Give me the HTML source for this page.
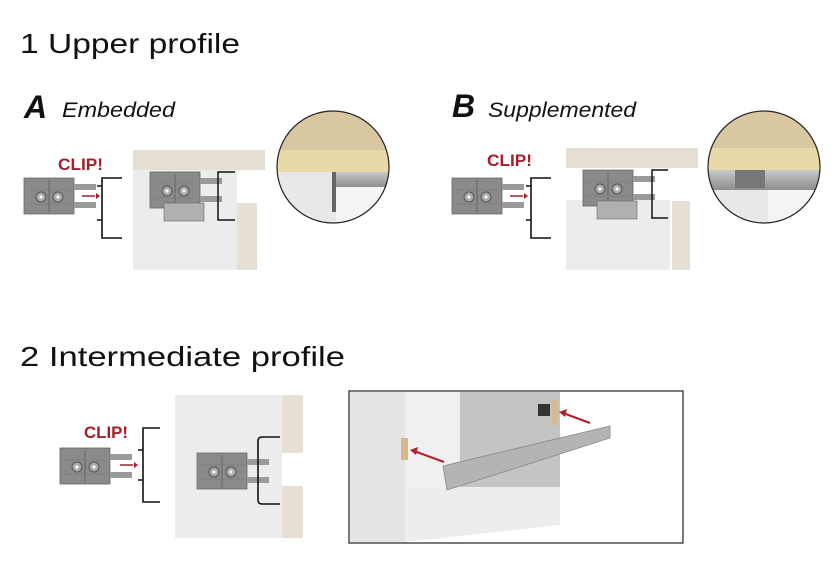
<!DOCTYPE html>
<html><head><style>
html,body{margin:0;padding:0;background:#fff;}
svg{display:block;}
text{font-family:"Liberation Sans",sans-serif;}
</style></head><body>
<svg width="834" height="573" viewBox="0 0 834 573" xmlns="http://www.w3.org/2000/svg">
<defs>
<g id="clip">
 <rect x="0" y="0" width="50" height="36" fill="#8a8a8a" stroke="#666" stroke-width="0.8"/>
 <rect x="50" y="6" width="22" height="6" fill="#9a9a9a"/>
 <rect x="50" y="24" width="22" height="6" fill="#9a9a9a"/>
 <line x1="25" y1="2" x2="25" y2="34" stroke="#666"/>
 <line x1="3" y1="12" x2="47" y2="12" stroke="#777" stroke-width="0.6"/>
 <line x1="3" y1="26" x2="47" y2="26" stroke="#777" stroke-width="0.6"/>
 <circle cx="17" cy="19" r="5" fill="#aaa" stroke="#555"/><circle cx="17" cy="19" r="1.6" fill="#fff"/>
 <circle cx="34" cy="19" r="5" fill="#aaa" stroke="#555"/><circle cx="34" cy="19" r="1.6" fill="#fff"/>
</g>
<g id="bracket" fill="none" stroke="#111" stroke-width="1.6">
 <path d="M22 0 H2 V60 H22"/>
 <path d="M2 8 H-3 M2 42 H-3"/>
</g>
<linearGradient id="alu" x1="0" y1="0" x2="0" y2="1"><stop offset="0" stop-color="#c8c8c8"/><stop offset="1" stop-color="#8e8e8e"/></linearGradient>
<clipPath id="cA"><circle cx="333" cy="167" r="56"/></clipPath>
<clipPath id="cB"><circle cx="764" cy="167" r="56"/></clipPath>
</defs>

<text x="20" y="53" font-size="28" fill="#111" textLength="220" lengthAdjust="spacingAndGlyphs">1 Upper profile</text>
<text x="24" y="118" font-size="32" font-weight="bold" font-style="italic" fill="#111">A</text>
<text x="62" y="117" font-size="21" font-style="italic" fill="#111" textLength="113" lengthAdjust="spacingAndGlyphs">Embedded</text>
<text x="452" y="117" font-size="32" font-weight="bold" font-style="italic" fill="#111">B</text>
<text x="488" y="117" font-size="21" font-style="italic" fill="#111" textLength="148" lengthAdjust="spacingAndGlyphs">Supplemented</text>

<!-- A -->
<text x="58" y="170" font-size="17" font-weight="bold" fill="#a3202a" textLength="45" lengthAdjust="spacingAndGlyphs">CLIP!</text>
<use href="#clip" x="24" y="178"/>
<line x1="82" y1="196" x2="95" y2="196" stroke="#a3202a" stroke-width="1.5"/>
<path d="M96 193 L100 196 L96 199Z" fill="#a3202a"/>
<use href="#bracket" x="100" y="178"/>
<rect x="133" y="150" width="132" height="20" fill="#e6dfd3"/>
<rect x="133" y="170" width="104" height="100" fill="#ececec"/>
<rect x="237" y="203" width="20" height="67" fill="#e6dfd3"/>
<use href="#clip" x="150" y="172"/>
<rect x="164" y="203" width="40" height="18" fill="#b0b0b0" stroke="#666" stroke-width="0.6"/>
<path d="M235 172 H218 V220 H235" fill="none" stroke="#111" stroke-width="1.5"/>
<circle cx="333" cy="167" r="56" fill="#e8e8e8"/>
<g clip-path="url(#cA)">
 <path d="M270 100 H400 V150 L380 172 H270Z" fill="#d8c7a0"/>
 <rect x="270" y="150" width="130" height="22" fill="#e9d9a8"/>
 <rect x="332" y="172" width="70" height="15" fill="url(#alu)"/>
 <rect x="332" y="172" width="4" height="40" fill="#666"/>
 <rect x="336" y="187" width="66" height="60" fill="#f4f4f4"/>
</g>
<circle cx="333" cy="167" r="56" fill="none" stroke="#222" stroke-width="1.2"/>

<!-- B -->
<text x="487" y="166" font-size="17" font-weight="bold" fill="#a3202a" textLength="45" lengthAdjust="spacingAndGlyphs">CLIP!</text>
<use href="#clip" x="452" y="178"/>
<line x1="510" y1="196" x2="523" y2="196" stroke="#a3202a" stroke-width="1.5"/>
<path d="M524 193 L528 196 L524 199Z" fill="#a3202a"/>
<use href="#bracket" x="529" y="178"/>
<rect x="566" y="148" width="132" height="20" fill="#e6dfd3"/>
<rect x="566" y="200" width="104" height="70" fill="#ececec"/>
<rect x="672" y="201" width="18" height="69" fill="#e6dfd3"/>
<use href="#clip" x="583" y="170"/>
<rect x="597" y="201" width="40" height="18" fill="#b0b0b0" stroke="#666" stroke-width="0.6"/>
<path d="M668 170 H652 V218 H668" fill="none" stroke="#111" stroke-width="1.5"/>
<circle cx="764" cy="167" r="56" fill="#e8e8e8"/>
<g clip-path="url(#cB)">
 <path d="M700 100 H830 V150 L810 170 H700Z" fill="#d8c7a0"/>
 <rect x="700" y="148" width="130" height="22" fill="#e9d9a8"/>
 <rect x="700" y="170" width="130" height="20" fill="url(#alu)"/>
 <rect x="735" y="170" width="30" height="18" fill="#777"/>
 <rect x="768" y="190" width="60" height="50" fill="#f4f4f4"/>
</g>
<circle cx="764" cy="167" r="56" fill="none" stroke="#222" stroke-width="1.2"/>

<!-- Section 2 -->
<text x="20" y="366" font-size="28" fill="#111" textLength="325" lengthAdjust="spacingAndGlyphs">2 Intermediate profile</text>
<text x="84" y="438" font-size="17" font-weight="bold" fill="#a3202a" textLength="44" lengthAdjust="spacingAndGlyphs">CLIP!</text>
<use href="#clip" x="60" y="448"/>
<line x1="120" y1="465" x2="133" y2="465" stroke="#a3202a" stroke-width="1.5"/>
<path d="M134 462 L138 465 L134 468Z" fill="#a3202a"/>
<g fill="none" stroke="#111" stroke-width="1.6">
 <path d="M160 428 H143 V502 H160"/>
 <path d="M143 450 H138 M143 480 H138"/>
</g>
<rect x="175" y="395" width="107" height="143" fill="#ececec"/>
<rect x="282" y="395" width="21" height="58" fill="#e6dfd3"/>
<rect x="282" y="486" width="21" height="52" fill="#e6dfd3"/>
<use href="#clip" x="197" y="453"/>
<path d="M280 437 H262 Q258 437 258 441 V500 Q258 504 262 504 H280" fill="none" stroke="#111" stroke-width="1.6"/>

<!-- photo -->
<rect x="349" y="391" width="334" height="152" fill="#fff" stroke="#222" stroke-width="1.2"/>
<rect x="350" y="392" width="55" height="150" fill="#e4e4e4"/>
<rect x="405" y="392" width="55" height="95" fill="#f0f0f0"/>
<rect x="460" y="392" width="100" height="100" fill="#c4c4c4"/>
<path d="M405 487 L560 487 L560 525 L405 542Z" fill="#ededed"/>
<rect x="401" y="438" width="7" height="22" fill="#d8b98a"/>
<rect x="552" y="400" width="6" height="25" fill="#d8b98a"/>
<rect x="538" y="404" width="12" height="12" fill="#333"/>
<path d="M443 466 L610 426 L610 438 L447 490Z" fill="#b4b4b4" stroke="#888" stroke-width="0.8"/>
<line x1="444" y1="462" x2="414" y2="451" stroke="#b3202a" stroke-width="2"/>
<path d="M410 450 L418 447 L416 455Z" fill="#b3202a"/>
<line x1="590" y1="423" x2="563" y2="413" stroke="#b3202a" stroke-width="2"/>
<path d="M559 412 L567 409 L565 417Z" fill="#b3202a"/>
</svg>
</body></html>
